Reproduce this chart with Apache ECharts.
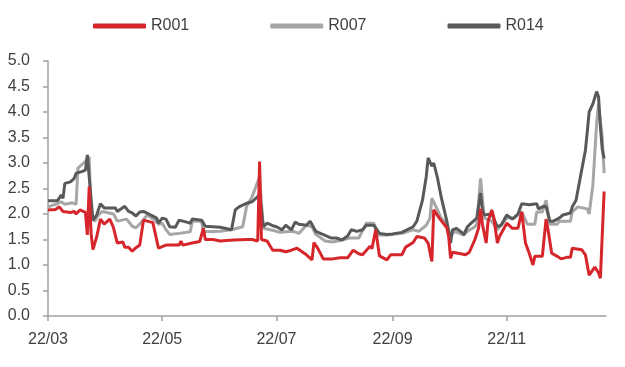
<!DOCTYPE html>
<html>
<head>
<meta charset="utf-8">
<script src="https://cdn.jsdelivr.net/npm/echarts@6/dist/echarts.min.js"></script>
<style>
html,body{margin:0;padding:0;background:#fff;}
#chart{width:625px;height:367px;}
</style>
</head>
<body>
<div id="chart"></div>
<script>
const seriesNames = ['R001', 'R007', 'R014'];
const tickDates = ['2022-03-01', '2022-05-01', '2022-07-01', '2022-09-01', '2022-11-01'];
const axisStart = '2022-03-01';
const axisEnd = '2022-12-24';
const yTicks = [0, 0.5, 1, 1.5, 2, 2.5, 3, 3.5, 4, 4.5, 5];

const r001Dates = ['2022-03-01','2022-03-05','2022-03-07','2022-03-09','2022-03-13','2022-03-15','2022-03-16','2022-03-18','2022-03-21','2022-03-22','2022-03-23','2022-03-24','2022-03-25','2022-03-27','2022-03-29','2022-03-31',
'2022-04-03','2022-04-05','2022-04-07','2022-04-10','2022-04-11','2022-04-13','2022-04-15','2022-04-17','2022-04-19','2022-04-20','2022-04-21','2022-04-26','2022-04-27','2022-04-29',
'2022-05-01','2022-05-03','2022-05-10','2022-05-11','2022-05-12','2022-05-17','2022-05-21','2022-05-22','2022-05-23','2022-05-24','2022-05-28',
'2022-06-01','2022-06-08','2022-06-15','2022-06-18','2022-06-21','2022-06-22','2022-06-23','2022-06-26','2022-06-29',
'2022-07-03','2022-07-06','2022-07-09','2022-07-12','2022-07-17','2022-07-20','2022-07-21','2022-07-23','2022-07-26','2022-07-31',
'2022-08-04','2022-08-08','2022-08-11','2022-08-14','2022-08-16','2022-08-20','2022-08-21','2022-08-23','2022-08-25','2022-08-29','2022-08-31',
'2022-09-06','2022-09-08','2022-09-12','2022-09-14','2022-09-18','2022-09-20','2022-09-22','2022-09-23','2022-09-26','2022-09-30',
'2022-10-01','2022-10-02','2022-10-03','2022-10-06','2022-10-10','2022-10-12','2022-10-15','2022-10-17','2022-10-18','2022-10-19','2022-10-21','2022-10-22','2022-10-24','2022-10-25','2022-10-27','2022-10-28',
'2022-11-01','2022-11-04','2022-11-07','2022-11-09','2022-11-11','2022-11-13','2022-11-15','2022-11-16','2022-11-20','2022-11-22','2022-11-23','2022-11-25','2022-11-28','2022-11-30',
'2022-12-03','2022-12-05','2022-12-06','2022-12-11','2022-12-13','2022-12-15','2022-12-18','2022-12-20','2022-12-21','2022-12-22','2022-12-23'];
const r001Values = [2.08,2.09,2.14,2.05,2.03,2.05,2.00,2.08,2.03,1.59,2.54,1.62,1.30,1.55,1.90,1.80,
1.90,1.73,1.43,1.45,1.35,1.35,1.27,1.34,1.39,1.39,1.88,1.83,1.82,1.33,
1.36,1.39,1.39,1.47,1.39,1.43,1.46,1.46,1.72,1.50,1.50,
1.47,1.49,1.50,1.50,1.47,3.03,1.50,1.47,1.29,
1.29,1.26,1.29,1.33,1.20,1.10,1.44,1.33,1.12,1.12,
1.14,1.14,1.29,1.22,1.20,1.37,1.32,1.69,1.18,1.10,1.20,
1.20,1.35,1.44,1.56,1.53,1.43,1.07,2.08,1.92,1.73,
1.55,1.13,1.25,1.23,1.20,1.25,1.50,1.73,2.10,1.80,1.43,1.85,2.08,1.95,1.43,1.55,
1.82,1.72,1.72,2.04,1.43,1.23,1.00,1.17,1.17,1.90,1.70,1.23,1.17,1.12,
1.15,1.15,1.33,1.30,1.20,0.80,0.96,0.85,0.74,0.74,2.44];

const r007Dates = ['2022-03-01','2022-03-06','2022-03-08','2022-03-10','2022-03-14','2022-03-16','2022-03-17','2022-03-20','2022-03-22','2022-03-23','2022-03-24','2022-03-26','2022-03-28','2022-03-30',
'2022-04-05','2022-04-07','2022-04-12','2022-04-15','2022-04-17','2022-04-19','2022-04-23','2022-04-27','2022-04-29',
'2022-05-01','2022-05-03','2022-05-05','2022-05-10','2022-05-16','2022-05-17','2022-05-22','2022-05-23',
'2022-06-01','2022-06-07','2022-06-13','2022-06-15','2022-06-18','2022-06-22','2022-06-24','2022-06-29',
'2022-07-03','2022-07-10','2022-07-13','2022-07-17','2022-07-20','2022-07-22','2022-07-27','2022-07-31',
'2022-08-05','2022-08-09','2022-08-14','2022-08-18','2022-08-22','2022-08-24','2022-08-29',
'2022-09-06','2022-09-12','2022-09-15','2022-09-19','2022-09-21','2022-09-22','2022-09-24','2022-09-27','2022-09-30',
'2022-10-02','2022-10-04','2022-10-09','2022-10-11','2022-10-15','2022-10-16','2022-10-18','2022-10-19','2022-10-20','2022-10-24','2022-10-27',
'2022-11-01','2022-11-05','2022-11-09','2022-11-12','2022-11-16','2022-11-17','2022-11-20','2022-11-22','2022-11-24','2022-11-28','2022-11-29',
'2022-12-05','2022-12-06','2022-12-09','2022-12-14','2022-12-15','2022-12-17','2022-12-19','2022-12-20','2022-12-22','2022-12-23'];
const r007Values = [2.14,2.20,2.24,2.19,2.22,2.19,2.90,3.00,3.07,3.12,1.92,1.86,1.98,2.05,
2.00,1.86,1.90,1.76,1.73,1.80,1.98,1.88,1.80,
1.82,1.69,1.60,1.62,1.65,1.86,1.86,1.65,
1.66,1.69,1.75,2.14,2.34,2.73,1.72,1.68,
1.64,1.66,1.62,1.78,1.75,1.60,1.47,1.45,
1.49,1.53,1.53,1.82,1.82,1.59,1.59,
1.62,1.69,1.66,1.78,1.92,2.31,2.16,1.92,1.80,
1.56,1.66,1.59,1.66,1.75,1.80,2.70,2.30,1.92,1.86,1.69,
1.92,1.92,2.04,1.80,1.80,2.04,2.04,2.27,1.80,1.80,1.86,
1.86,2.04,2.14,2.10,2.00,2.57,3.78,4.16,3.50,2.80];

const r014Dates = ['2022-03-01','2022-03-06','2022-03-07','2022-03-08','2022-03-09','2022-03-10','2022-03-13','2022-03-15','2022-03-16','2022-03-19','2022-03-21','2022-03-22','2022-03-23','2022-03-25','2022-03-27','2022-03-29','2022-03-31',
'2022-04-06','2022-04-07','2022-04-11','2022-04-13','2022-04-15','2022-04-17','2022-04-19','2022-04-21','2022-04-26','2022-04-28','2022-04-29',
'2022-05-01','2022-05-03','2022-05-05','2022-05-08','2022-05-10','2022-05-14','2022-05-16','2022-05-17','2022-05-22','2022-05-24',
'2022-06-01','2022-06-07','2022-06-09','2022-06-11','2022-06-15','2022-06-18','2022-06-21','2022-06-22','2022-06-24','2022-06-26','2022-06-29',
'2022-07-01','2022-07-04','2022-07-06','2022-07-09','2022-07-11','2022-07-13','2022-07-17','2022-07-19','2022-07-22','2022-07-27','2022-07-30',
'2022-08-02','2022-08-05','2022-08-08','2022-08-10','2022-08-13','2022-08-16','2022-08-18','2022-08-22','2022-08-25','2022-08-29',
'2022-09-01','2022-09-06','2022-09-12','2022-09-14','2022-09-17','2022-09-19','2022-09-20','2022-09-22','2022-09-23','2022-09-25','2022-09-27','2022-09-30',
'2022-10-02','2022-10-03','2022-10-05','2022-10-08','2022-10-09','2022-10-11','2022-10-13','2022-10-16','2022-10-18','2022-10-19','2022-10-20','2022-10-24','2022-10-27','2022-10-29',
'2022-11-01','2022-11-02','2022-11-04','2022-11-07','2022-11-09','2022-11-13','2022-11-17','2022-11-18','2022-11-20','2022-11-22','2022-11-24','2022-11-26','2022-11-29',
'2022-12-01','2022-12-05','2022-12-06','2022-12-08','2022-12-11','2022-12-13','2022-12-14','2022-12-15','2022-12-17','2022-12-19','2022-12-20','2022-12-21','2022-12-22','2022-12-23'];
const r014Values = [2.26,2.26,2.31,2.37,2.31,2.60,2.63,2.70,2.80,2.83,2.86,3.16,3.18,1.88,1.98,2.20,2.12,
2.12,2.05,2.15,2.05,2.02,1.96,2.04,2.05,1.96,1.92,1.82,
1.92,1.90,1.75,1.74,1.88,1.84,1.82,1.90,1.88,1.76,
1.74,1.69,2.08,2.14,2.21,2.24,2.34,2.40,1.75,1.82,1.77,
1.75,1.69,1.78,1.69,1.84,1.80,1.78,1.86,1.66,1.58,1.53,
1.53,1.49,1.57,1.69,1.66,1.69,1.78,1.78,1.62,1.60,
1.61,1.64,1.75,1.86,2.27,2.73,3.10,2.94,3.00,2.71,2.33,1.86,
1.43,1.69,1.72,1.64,1.59,1.75,1.82,1.92,2.41,2.08,1.98,2.00,1.75,1.78,
1.98,1.96,1.90,2.00,2.20,2.18,2.20,2.10,2.14,2.15,1.86,1.86,1.92,
1.98,2.02,2.14,2.27,2.86,3.25,3.61,4.00,4.16,4.40,4.30,3.71,3.27,3.09];

function toTs(s) {
  const p = s.split('-').map(Number);
  return new Date(p[0], p[1] - 1, p[2]).getTime();
}
function pairs(dates, values) {
  return dates.map((d, i) => [toTs(d), values[i]]);
}

const FONT = 'Liberation Sans';
const TEXT = '#404040';
const AXIS = '#a0a0a0';
const tickTs = tickDates.map(toTs);

const chart = echarts.init(document.getElementById('chart'), null, { renderer: 'canvas' });
chart.setOption({
  animation: false,
  backgroundColor: '#ffffff',
  textStyle: { fontFamily: FONT },
  legend: {
    data: seriesNames,
    left: 88,
    top: 13,
    itemWidth: 53,
    itemHeight: 5,
    itemGap: 81,
    icon: 'roundRect',
    textStyle: { fontSize: 16, color: TEXT, fontFamily: FONT }
  },
  grid: { left: 48, right: 19, top: 61, bottom: 51, containLabel: false },
  xAxis: {
    type: 'value',
    min: toTs(axisStart),
    max: toTs(axisEnd),
    splitLine: { show: false },
    axisLine: { show: true, lineStyle: { color: AXIS, width: 1.5 } },
    axisTick: { show: true, length: 5, lineStyle: { color: AXIS, width: 1.5 }, customValues: tickTs },
    axisLabel: {
      customValues: tickTs,
      margin: 16,
      fontSize: 16,
      color: TEXT,
      fontFamily: FONT,
      formatter: function (v) {
        const d = new Date(v);
        const yy = String(d.getFullYear()).slice(2);
        const mm = String(d.getMonth() + 1).padStart(2, '0');
        return yy + '/' + mm;
      }
    }
  },
  yAxis: {
    type: 'value',
    min: yTicks[0],
    max: yTicks[yTicks.length - 1],
    interval: yTicks[1] - yTicks[0],
    splitLine: { show: false },
    axisLine: { show: true, lineStyle: { color: AXIS, width: 1.5 } },
    axisTick: { show: true, length: 5, lineStyle: { color: AXIS, width: 1.5 } },
    axisLabel: {
      margin: 18,
      fontSize: 16,
      color: TEXT,
      fontFamily: FONT,
      formatter: function (v) { return v.toFixed(1); }
    }
  },
  series: [
    { name: seriesNames[0], type: 'line', z: 5, symbol: 'none', data: pairs(r001Dates, r001Values),
      lineStyle: { width: 3, color: '#d7262b' }, itemStyle: { color: '#d7262b' } },
    { name: seriesNames[1], type: 'line', z: 3, symbol: 'none', data: pairs(r007Dates, r007Values),
      lineStyle: { width: 3, color: '#a6a6a6' }, itemStyle: { color: '#a6a6a6' } },
    { name: seriesNames[2], type: 'line', z: 4, symbol: 'none', data: pairs(r014Dates, r014Values),
      lineStyle: { width: 3, color: '#595959' }, itemStyle: { color: '#595959' } }
  ]
});
</script>
</body>
</html>
